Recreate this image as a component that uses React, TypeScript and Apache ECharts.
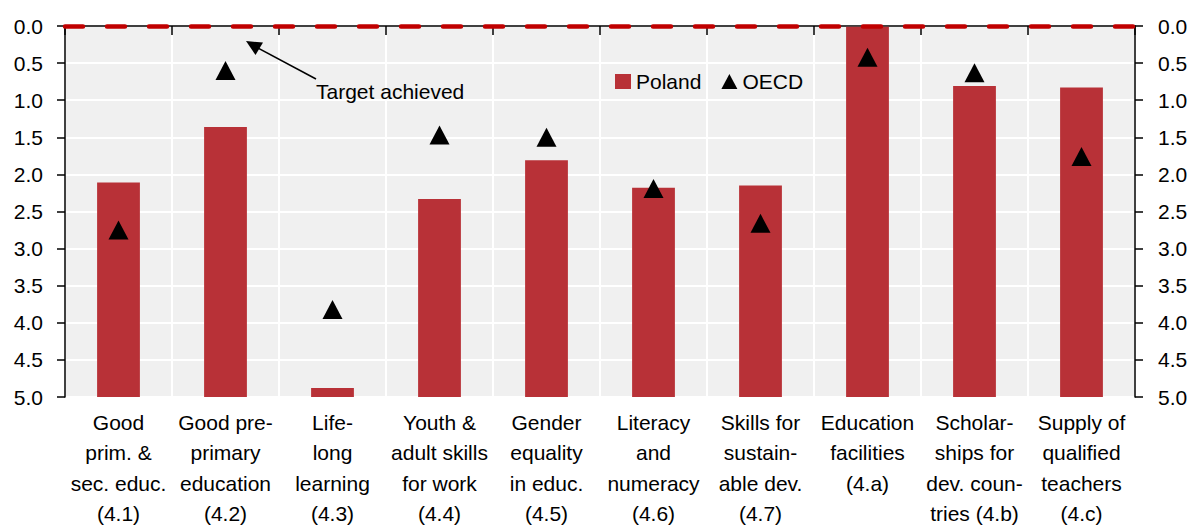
import React, { useEffect, useRef } from "react";
import * as echarts from "echarts";

const categories = [
  "Good\nprim. &\nsec. educ.\n(4.1)",
  "Good pre-\nprimary\neducation\n(4.2)",
  "Life-\nlong\nlearning\n(4.3)",
  "Youth &\nadult skills\nfor work\n(4.4)",
  "Gender\nequality\nin educ.\n(4.5)",
  "Literacy\nand\nnumeracy\n(4.6)",
  "Skills for\nsustain-\nable dev.\n(4.7)",
  "Education\nfacilities\n(4.a)",
  "Scholar-\nships for\ndev. coun-\ntries (4.b)",
  "Supply of\nqualified\nteachers\n(4.c)",
];
const poland = [2.11, 1.36, 4.88, 2.33, 1.81, 2.18, 2.15, 0.01, 0.81, 0.83];
const oecd = [2.75, 0.6, 3.82, 1.47, 1.5, 2.19, 2.66, 0.42, 0.63, 1.76];
const targetLevel = 0;
const yMin = 0;
const yMax = 5;
const yStep = 0.5;

const FONT = "Liberation Sans, Arial, sans-serif";

export default function App() {
  const ref = useRef<HTMLDivElement>(null);
  useEffect(() => {
    if (!ref.current) return;
    const chart = echarts.init(ref.current, null, { renderer: "svg" });
    const yAxisBase = {
      type: "value" as const,
      inverse: true,
      min: yMin,
      max: yMax,
      interval: yStep,
      axisLine: { show: true, lineStyle: { color: "#000", width: 1.5 } },
      axisTick: { show: true, length: 8, lineStyle: { color: "#000", width: 1.5 } },
      splitLine: { show: true, lineStyle: { color: "#ffffff", width: 2 } },
      axisLabel: {
        color: "#000",
        fontSize: 21,
        fontFamily: FONT,
        formatter: (v: number) => v.toFixed(1),
      },
    };
    // bars rise from the bottom of the inverted axis (yMax) up to each value
    const barBase = poland.map((v) => v);
    const barBody = poland.map((v) => yMax - v);
    chart.setOption({
      animation: false,
      textStyle: { fontFamily: FONT },
      grid: {
        left: 65,
        right: 58,
        top: 26,
        bottom: 131,
        show: true,
        backgroundColor: "#f0f0f0",
        borderWidth: 0,
      },
      legend: {
        left: 610,
        top: 66,
        itemGap: 20,
        itemWidth: 16,
        itemHeight: 15,
        textStyle: { fontSize: 21, color: "#000", fontFamily: FONT },
        data: [
          { name: "Poland", icon: "rect" },
          { name: "OECD", icon: "triangle", itemStyle: { color: "#000", opacity: 1 } },
        ],
      },
      xAxis: {
        type: "category",
        data: categories,
        boundaryGap: true,
        axisLine: { show: true, lineStyle: { color: "#000", width: 1.5 } },
        axisTick: { show: true, length: 9, lineStyle: { color: "#000", width: 1.5 } },
        splitLine: { show: true, lineStyle: { color: "#ffffff", width: 2 } },
        axisLabel: {
          color: "#000",
          fontSize: 21,
          fontFamily: FONT,
          lineHeight: 30.5,
          margin: 10,
          interval: 0,
        },
      },
      yAxis: [
        { ...yAxisBase, position: "left", axisLabel: { ...yAxisBase.axisLabel, margin: 22 } },
        { ...yAxisBase, position: "right", splitLine: { show: false }, axisLabel: { ...yAxisBase.axisLabel, margin: 23 } },
      ],
      series: [
        {
          name: "base",
          type: "bar",
          stack: "pl",
          data: barBase,
          barWidth: "40%",
          itemStyle: { color: "transparent" },
          silent: true,
          yAxisIndex: 0,
        },
        {
          name: "Poland",
          type: "bar",
          stack: "pl",
          data: barBody,
          barWidth: "40%",
          itemStyle: { color: "#b83137" },
          yAxisIndex: 0,
          markLine: {
            silent: true,
            symbol: ["none", "none"],
            label: { show: false },
            lineStyle: { color: "#c00000", width: 4.5, type: [18, 24], cap: "round" },
            data: [{ yAxis: targetLevel }],
          },
        },
        {
          name: "OECD",
          type: "scatter",
          data: oecd,
          symbol: "triangle",
          symbolSize: [20, 19],
          itemStyle: { color: "#000", opacity: 1 },
          yAxisIndex: 0,
          z: 5,
        },
      ],
      graphic: [
        {
          type: "line",
          shape: { x1: 316, y1: 79, x2: 254, y2: 46 },
          style: { stroke: "#000", lineWidth: 1.5 },
          z: 100,
        },
        {
          type: "polygon",
          shape: { points: [[246, 41], [263, 42.5], [255.5, 55]] },
          style: { fill: "#000" },
          z: 100,
        },
        {
          type: "text",
          x: 316,
          y: 91,
          style: {
            text: "Target achieved",
            fontSize: 21,
            fontFamily: FONT,
            fill: "#000",
            verticalAlign: "middle",
            align: "left",
          },
          z: 100,
        },
      ],
    });
    return () => chart.dispose();
  }, []);
  return (
    <div
      ref={ref}
      style={{ position: "fixed", left: 0, top: 0, width: 1193, height: 529, background: "#fff" }}
    />
  );
}
